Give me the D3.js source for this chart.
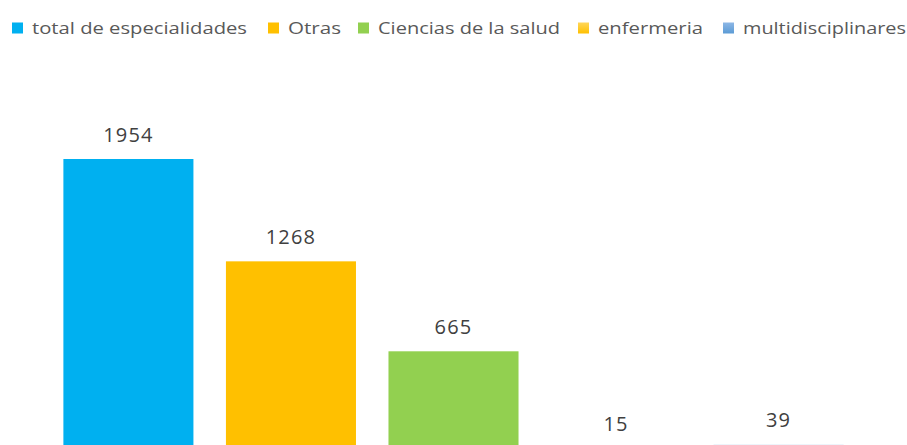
<!DOCTYPE html>
<html>
<head>
<meta charset="utf-8">
<script src="https://cdn.jsdelivr.net/npm/d3@7"></script>
<style>
  html, body { margin: 0; padding: 0; background: #fff; }
  svg { display: block; }
</style>
</head>
<body>
<svg id="chart" width="907" height="445"></svg>
<script>
// ---- data ----
const series = ["total de especialidades", "Otras", "Ciencias de la salud", "enfermeria", "multidisciplinares"];
const values = [1954, 1268, 665, 15, 39];
const colors = ["#00B0F0", "#FFC000", "#92D050", "url(#gEnf)", "url(#gMulti)"];
const legendWidths = [215, 53, 182, 105, 163];
const legendX = [12, 268, 358, 578, 723];

const W = 907, H = 445;
const svg = d3.select("#chart");

// gradients
const defs = svg.append("defs");
function grad(id, c1, c2) {
  const g = defs.append("linearGradient").attr("id", id)
    .attr("x1", 0).attr("y1", 0).attr("x2", 0).attr("y2", 1);
  g.append("stop").attr("offset", "0%").attr("stop-color", c1);
  g.append("stop").attr("offset", "100%").attr("stop-color", c2);
}
grad("gEnf", "#FFD65A", "#FFC000");
grad("gMulti", "#C6DBF1", "#5B9BD5");
grad("gMultiLeg", "#8DB7E6", "#5B9BD5");

// scales
const x = d3.scaleBand().domain(series).range([0, W]).paddingInner(0.2).paddingOuter(0.39);
const y = d3.scaleLinear().domain([0, 2500]).range([450.5, 450.5 - 2500 * 0.14918]);

// bars
svg.append("g").selectAll("rect").data(series).join("rect")
  .attr("x", d => x(d))
  .attr("width", x.bandwidth())
  .attr("y", (d, i) => y(values[i]))
  .attr("height", (d, i) => y(0) - y(values[i]))
  .attr("fill", (d, i) => colors[i]);

// value labels
svg.append("g").selectAll("text").data(series).join("text")
  .attr("x", d => x(d) + x.bandwidth() / 2)
  .attr("y", (d, i) => y(values[i]) - 17.5)
  .attr("text-anchor", "middle")
  .attr("font-family", "'Open Sans', sans-serif")
  .attr("font-size", 20)
  .attr("letter-spacing", 1.2)
  .attr("fill", "#404040")
  .text((d, i) => values[i]);

// legend
const leg = svg.append("g");
const legColors = ["#00B0F0", "#FFC000", "#92D050", "url(#gEnf)", "url(#gMultiLeg)"];
series.forEach((s, i) => {
  leg.append("rect")
    .attr("x", legendX[i]).attr("y", 22.5)
    .attr("width", 11).attr("height", 11)
    .attr("fill", legColors[i]);
  leg.append("text")
    .attr("x", legendX[i] + 20).attr("y", 34)
    .attr("font-family", "'Open Sans', sans-serif")
    .attr("font-size", 17)
    .attr("fill", "#595959")
    .attr("textLength", legendWidths[i])
    .attr("lengthAdjust", "spacingAndGlyphs")
    .text(s);
});
</script>
</body>
</html>
